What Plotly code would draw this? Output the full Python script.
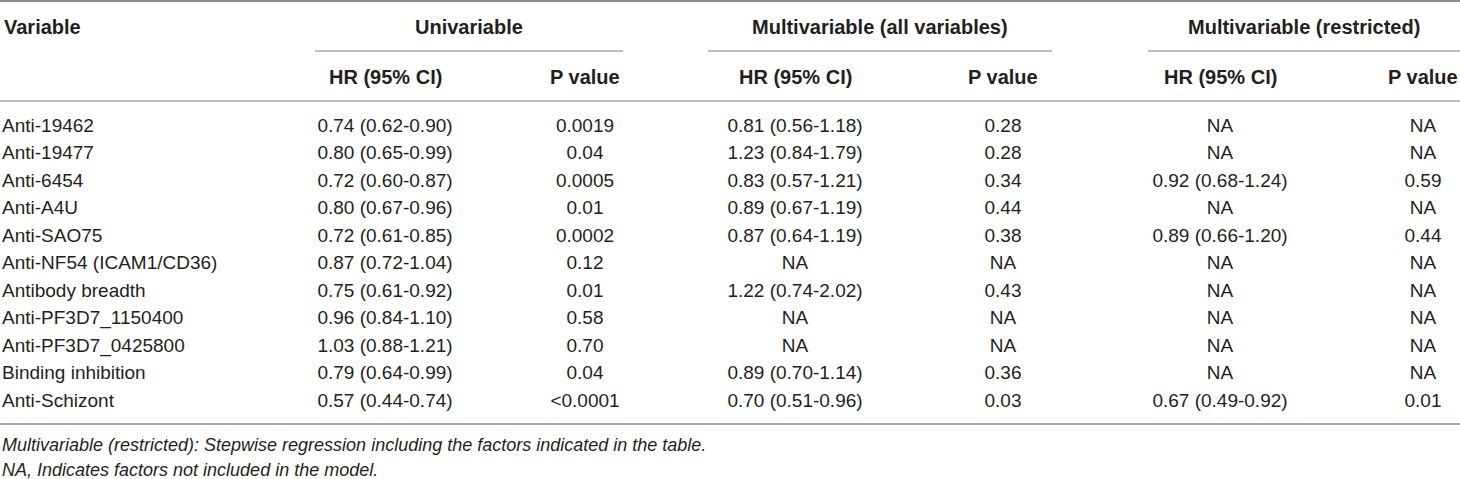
import plotly.graph_objects as go

# table content
variables = ["Anti-19462", "Anti-19477", "Anti-6454", "Anti-A4U", "Anti-SAO75",
             "Anti-NF54 (ICAM1/CD36)", "Antibody breadth", "Anti-PF3D7_1150400",
             "Anti-PF3D7_0425800", "Binding inhibition", "Anti-Schizont"]
uni_hr = ["0.74 (0.62-0.90)", "0.80 (0.65-0.99)", "0.72 (0.60-0.87)", "0.80 (0.67-0.96)",
          "0.72 (0.61-0.85)", "0.87 (0.72-1.04)", "0.75 (0.61-0.92)", "0.96 (0.84-1.10)",
          "1.03 (0.88-1.21)", "0.79 (0.64-0.99)", "0.57 (0.44-0.74)"]
uni_p = ["0.0019", "0.04", "0.0005", "0.01", "0.0002", "0.12", "0.01", "0.58", "0.70",
         "0.04", "<0.0001"]
all_hr = ["0.81 (0.56-1.18)", "1.23 (0.84-1.79)", "0.83 (0.57-1.21)", "0.89 (0.67-1.19)",
          "0.87 (0.64-1.19)", "NA", "1.22 (0.74-2.02)", "NA", "NA", "0.89 (0.70-1.14)",
          "0.70 (0.51-0.96)"]
all_p = ["0.28", "0.28", "0.34", "0.44", "0.38", "NA", "0.43", "NA", "NA", "0.36", "0.03"]
res_hr = ["NA", "NA", "0.92 (0.68-1.24)", "NA", "0.89 (0.66-1.20)", "NA", "NA", "NA", "NA",
          "NA", "0.67 (0.49-0.92)"]
res_p = ["NA", "NA", "0.59", "NA", "0.44", "NA", "NA", "NA", "NA", "NA", "0.01"]

groups = ["Univariable", "Multivariable (all variables)", "Multivariable (restricted)"]
sub_headers = ["HR (95% CI)", "P value"]
footnotes = ["Multivariable (restricted): Stepwise regression including the factors indicated in the table.",
             "NA, Indicates factors not included in the model."]

W, H = 1460, 479
FONT = "Liberation Sans"
TXT = "#231f20"
RULE = "#a6a6a6"
FS = 19      # body
FS_HEAD = 20 # bold headers
FS_NOTE = 18 # italic footnotes

# layout (pixel space)
row_top, row_h = 127, 27.5
col_x = [385, 585, 795, 1003, 1220, 1423]
group_spans = [(315, 623), (708, 1052), (1148, 1460)]
rows_y = [row_top + i * row_h for i in range(len(variables))]

fig = go.Figure()

fig.add_trace(go.Scatter(
    x=[2] * len(variables), y=rows_y, text=variables, mode="text",
    textposition="middle right", textfont=dict(family=FONT, size=FS, color=TXT),
    hoverinfo="skip", showlegend=False))

for cx, col in zip(col_x, [uni_hr, uni_p, all_hr, all_p, res_hr, res_p]):
    fig.add_trace(go.Scatter(
        x=[cx] * len(col), y=rows_y, text=col, mode="text",
        textposition="middle center", textfont=dict(family=FONT, size=FS, color=TXT),
        hoverinfo="skip", showlegend=False))

ann = []
ann.append(dict(x=2, y=27, text="<b>Variable</b>", xanchor="left", size=FS_HEAD))
for g, (a, b) in zip(groups, group_spans):
    ann.append(dict(x=(a + b) / 2, y=27, text="<b>%s</b>" % g, xanchor="center", size=FS_HEAD))
for i, cx in enumerate(col_x):
    ann.append(dict(x=cx, y=77, text="<b>%s</b>" % sub_headers[i % 2], xanchor="center",
                    size=FS_HEAD))
for j, f in enumerate(footnotes):
    ann.append(dict(x=0, y=445 + j * 25, text="<i>%s</i>" % f, xanchor="left", size=FS_NOTE))
for a_ in ann:
    size = a_.pop("size")
    a_.update(xref="x", yref="y", yanchor="middle", showarrow=False,
              font=dict(family=FONT, size=size, color=TXT))

shapes = [
    dict(type="line", x0=0, x1=W, y0=1, y1=1, line=dict(color="#8c8c8c", width=2)),
    dict(type="line", x0=0, x1=W, y0=101, y1=101, line=dict(color=RULE, width=1.5)),
    dict(type="line", x0=0, x1=W, y0=424, y1=424, line=dict(color=RULE, width=2)),
]
for a, b in group_spans:
    shapes.append(dict(type="line", x0=a, x1=b, y0=51, y1=51, line=dict(color=RULE, width=1.5)))
for s in shapes:
    s.update(xref="x", yref="y")

fig.update_layout(
    width=W, height=H, margin=dict(l=0, r=0, t=0, b=0),
    paper_bgcolor="white", plot_bgcolor="white",
    xaxis=dict(range=[0, W], visible=False, fixedrange=True),
    yaxis=dict(range=[H, 0], visible=False, fixedrange=True),
    annotations=ann, shapes=shapes,
)

# drop the default page margin so the figure sits flush in the window
fig.write_html("out.html", config={"displayModeBar": False},
               post_script="document.body.style.margin='0';document.body.style.overflow='hidden';")
